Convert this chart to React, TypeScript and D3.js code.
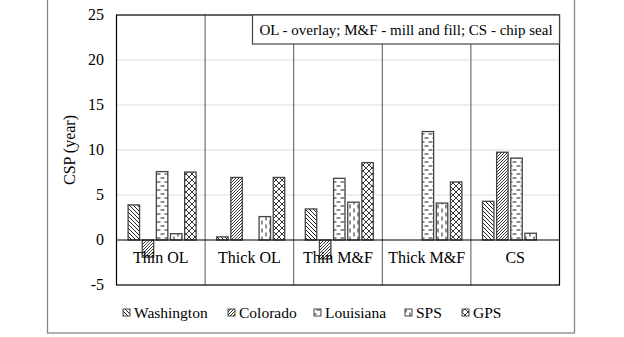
import React from "react";
import * as d3 from "d3";

const categories = ["Thin OL", "Thick OL", "Thin M&F", "Thick M&F", "CS"];
const seriesNames = ["Washington", "Colorado", "Louisiana", "SPS", "GPS"];
const washington = [3.9, 0.35, 3.45, 0, 4.3];
const colorado = [-1.9, 6.95, -2.1, 0, 9.75];
const louisiana = [7.6, 0, 6.85, 12.05, 9.1];
const sps = [0.7, 2.6, 4.2, 4.1, 0.75];
const gps = [7.55, 6.95, 8.6, 6.45, 0];
const yTicks = [-5, 0, 5, 10, 15, 20, 25];
const annotation = "OL - overlay; M&F - mill and fill; CS - chip seal";

const W = 624;
const H = 337;
const plot = { left: 116.5, right: 559.5, top: 15, bottom: 285 };
const FONT = "Liberation Serif";

export default function App() {
  const series = [washington, colorado, louisiana, sps, gps];
  const x = d3.scaleBand<string>().domain(categories).range([plot.left, plot.right]).padding(0);
  const y = d3.scaleLinear().domain([-5, 25]).range([plot.bottom, plot.top]);
  const inner = d3.scaleBand<string>().domain(seriesNames).range([0, 5 * 13.6]).paddingInner(0.19).paddingOuter(0);
  const groupW = 5 * 13.6 - 2.6;
  const bw = inner.bandwidth();
  const pats = ["pWa", "pCo", "pLa", "pSps", "pGps"];
  const legendX = [123, 228, 314, 405, 462];
  const ts = { fontFamily: FONT };
  return (
    <svg width={W} height={H} style={{ position: "absolute", left: 0, top: 0, background: "#fff" }}>
      <defs>
        <pattern id="pWa" patternUnits="userSpaceOnUse" width="4" height="4">
          <rect width="4" height="4" fill="#fff" />
          <path d="M-1,-1 L5,5 M-1,3 L1,5 M3,-1 L5,1" stroke="#222" strokeWidth="1" />
        </pattern>
        <pattern id="pCo" patternUnits="userSpaceOnUse" width="3" height="3">
          <rect width="3" height="3" fill="#fff" />
          <path d="M-1,4 L4,-1 M-1,1 L1,-1 M2,4 L4,2" stroke="#222" strokeWidth="0.9" />
        </pattern>
        <pattern id="pLa" patternUnits="userSpaceOnUse" width="8" height="8">
          <rect width="8" height="8" fill="#fff" />
          <path d="M0.5,2 L4.5,2 M4.5,6 L8.5,6 M-3.5,6 L0.5,6" stroke="#222" strokeWidth="1" />
        </pattern>
        <pattern id="pSps" patternUnits="userSpaceOnUse" width="8" height="8">
          <rect width="8" height="8" fill="#fff" />
          <path d="M2,0.5 L2,4.5 M6,4.5 L6,8.5 M6,-3.5 L6,0.5" stroke="#222" strokeWidth="1" />
        </pattern>
        <pattern id="pGps" patternUnits="userSpaceOnUse" width="6" height="6">
          <rect width="6" height="6" fill="#fff" />
          <path d="M0,0 L6,6 M6,0 L0,6" stroke="#222" strokeWidth="0.9" />
        </pattern>
      </defs>
      <rect x={47.5} y={-1} width={527} height={334} fill="none" stroke="#888" strokeWidth={1.3} />
      {yTicks.filter((t) => t !== 0 && t !== 25 && t !== -5).map((t) => (
        <line key={t} x1={plot.left} x2={plot.right} y1={y(t)} y2={y(t)} stroke="#ddd" strokeWidth={1} />
      ))}
      {categories.slice(1).map((c) => (
        <line key={c} x1={x(c)!} x2={x(c)!} y1={plot.top} y2={plot.bottom} stroke="#555" strokeWidth={1} />
      ))}
      {categories.map((c, ci) =>
        series.map((s, si) => {
          const v = s[ci];
          if (v === 0) return null;
          const bx = x(c)! + x.bandwidth() / 2 - groupW / 2 + inner(seriesNames[si])!;
          const y0 = y(0);
          const y1 = y(v);
          return (
            <rect key={c + si} x={bx} y={Math.min(y0, y1)} width={bw} height={Math.abs(y1 - y0)}
              fill={`url(#${pats[si]})`} stroke="#444" strokeWidth={1.3} />
          );
        })
      )}
      <line x1={plot.left} x2={plot.right} y1={y(0)} y2={y(0)} stroke="#000" strokeWidth={1.2} />
      <rect x={plot.left} y={plot.top} width={plot.right - plot.left} height={plot.bottom - plot.top} fill="none" stroke="#000" strokeWidth={1.2} />
      {yTicks.map((t) => (
        <text key={t} x={104} y={y(t) + 5} textAnchor="end" style={ts} fontSize={16} fill="#000">{t}</text>
      ))}
      <text transform={`translate(75,${150}) rotate(-90)`} textAnchor="middle" style={ts} fontSize={16} fill="#000">CSP (year)</text>
      {categories.map((c) => (
        <text key={c} x={x(c)! + x.bandwidth() / 2} y={263} textAnchor="middle" style={ts} fontSize={16} fill="#000">{c}</text>
      ))}
      <rect x={252.5} y={15} width={307} height={29} fill="#fff" stroke="#444" strokeWidth={1.2} />
      <text x={406} y={35} textAnchor="middle" style={ts} fontSize={15} fill="#000">{annotation}</text>
      {seriesNames.map((n, i) => (
        <g key={n}>
          <rect x={legendX[i]} y={309} width={7} height={7} fill={`url(#${pats[i]})`} stroke="#444" strokeWidth={1} />
          <text x={legendX[i] + 11} y={318} style={ts} fontSize={15.5} fill="#000">{n}</text>
        </g>
      ))}
    </svg>
  );
}
